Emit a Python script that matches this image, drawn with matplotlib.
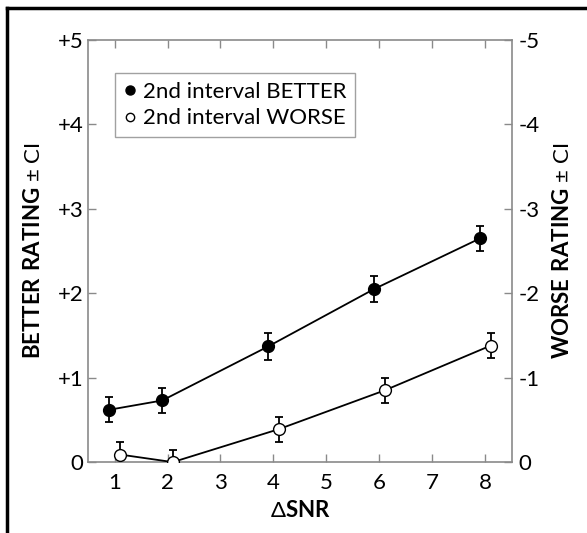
import numpy as np
import matplotlib
matplotlib.use("Agg")
import matplotlib.pyplot as plt
from matplotlib.lines import Line2D

plt.rcParams['font.family'] = ['Lato', 'DejaVu Sans']
plt.rcParams['mathtext.fontset'] = 'custom'
plt.rcParams['mathtext.rm'] = 'Lato'
plt.rcParams['mathtext.bf'] = 'Lato:bold'

# Data ########################################################################
snr = np.array([1, 2, 4, 6, 8])
better = np.array([0.62, 0.73, 1.37, 2.05, 2.65])
better_ci = np.array([0.15, 0.15, 0.16, 0.15, 0.15])
worse = np.array([0.09, 0.0, 0.39, 0.85, 1.38])
worse_ci = np.array([0.15, 0.14, 0.15, 0.15, 0.15])

left_ticks = [0, 1, 2, 3, 4, 5]
left_labels = ['0', '+1', '+2', '+3', '+4', '+5']
right_labels = ['0', '-1', '-2', '-3', '-4', '-5']
x_ticks = [1, 2, 3, 4, 5, 6, 7, 8]

# Figure ######################################################################
fig = plt.figure(figsize=(5.87, 5.33), dpi=100)
ax = fig.add_axes([0.150, 0.133, 0.722, 0.792])

ax.errorbar(snr - 0.1, better, yerr=better_ci, fmt='-o', color='black',
            mfc='black', mec='black', ms=8.5, lw=1.3, elinewidth=1.3,
            capsize=3, capthick=1.3, zorder=3)
ax.errorbar(snr + 0.1, worse, yerr=worse_ci, fmt='-o', color='black',
            mfc='white', mec='black', ms=8.5, lw=1.3, elinewidth=1.3,
            capsize=3, capthick=1.3, zorder=3)

ax.set_xlim(0.5, 8.5)
ax.set_ylim(0, 5)
ax.set_xticks(x_ticks)
ax.set_yticks(left_ticks)
ax.set_yticklabels(left_labels)

for s in ax.spines.values():
    s.set_color('#8a8a8a')
    s.set_linewidth(1.2)
ax.tick_params(direction='in', length=6, width=1, color='#8a8a8a',
               labelsize=16, top=True)
ax.tick_params(axis='y', pad=3.5)
ax.tick_params(axis='x', pad=8)

ax2 = ax.twinx()
ax2.set_ylim(0, 5)
ax2.set_yticks(left_ticks)
ax2.set_yticklabels(right_labels)
ax2.tick_params(direction='in', length=6, width=1, color='#8a8a8a',
                labelsize=16, pad=5)
for s in ax2.spines.values():
    s.set_visible(False)

ax.set_xlabel(r'$\Delta$$\mathbf{SNR}$', fontsize=16, labelpad=5)
ax.set_ylabel(r'$\mathbf{BETTER\ RATING}$ ± CI', fontsize=16, labelpad=10)
ax2.set_ylabel(r'$\mathbf{WORSE\ RATING}$ ± CI', fontsize=16, labelpad=9)

handles = [
    Line2D([], [], ls='none', marker='o', mfc='black', mec='black', ms=6.5),
    Line2D([], [], ls='none', marker='o', mfc='white', mec='black', ms=6),
]
leg = ax.legend(handles, ['2nd interval BETTER', '2nd interval WORSE'],
                loc='upper left', bbox_to_anchor=(0.063, 0.922), fontsize=16,
                fancybox=False, handlelength=0.6, handletextpad=0.25,
                borderpad=0.4, labelspacing=0.3, borderaxespad=0)
leg.get_frame().set_edgecolor('#8a8a8a')
leg.get_frame().set_linewidth(1.0)

# Outer frame (cropped on the right and bottom)
fig.add_artist(Line2D([0.012, 0.012], [0, 0.985], color='black', lw=2.5,
                      transform=fig.transFigure))
fig.add_artist(Line2D([0.012, 1.0], [0.985, 0.985], color='black', lw=2.5,
                      transform=fig.transFigure))

fig.savefig("out.png", dpi=100)
plt.close()
